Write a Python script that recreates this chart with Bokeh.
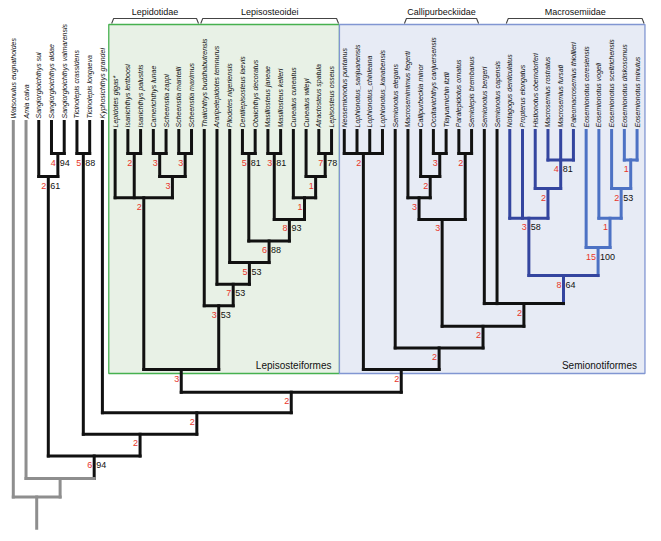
import math
from bokeh.plotting import figure
from bokeh.models import Range1d, ColumnDataSource
from bokeh.embed import file_html
from bokeh.resources import INLINE
from bokeh.core.properties import value

# ---------------- data ----------------
taxa = [
    "Watsonulus eugnathoides", "Amia calva", "Sangiorgioichthys sui",
    "Sangiorgioichthys aldae", "Sangiorgioichthys valmarensis",
    "Ticinolepis crassidens", "Ticinolepis longaeva", "Kyphosichthys grandei",
    "Lepidotes gigas*", "Isanichthys lertboosi", "Isanichthys palustris",
    "Camerichthys lunae", "Scheenstia zappi", "Scheenstia mantelli",
    "Scheenstia maximus", "Thaiichthys buddhabutrensis",
    "Araripelepidotes temnurus", "Pliodetes nigeriensis",
    "Dentilepisosteus laevis", "Obaichthys decoratus", "Masillosteus janeae",
    "Masillosteus kelleri", "Cuneatus cuneatus", "Cuneatus wileyi",
    "Atractosteus spatula", "Lepisosteus osseus", "Neosemionotus puntanus",
    "Lophionotus_sanjuanensis", "Lophionotus_chinleana",
    "Lophionotus_kanabensis", "Semionotus elegans", "Macrosemimimus fegerti",
    "Callipurbeckia minor", "Occitanichthys canjuersensis",
    "Tlayuamichin itztli", "Paralepidotus ornatus", "Semiolepis brembanus",
    "Semionotus bergeri", "Semionotus capensis", "Notagogus denticulatus",
    "Propterus elongatus", "Histionotus oberndorferi", "Macrosemius rostratus",
    "Macrosemius fursati", "Paleomacrosemius thiollieri",
    "Eosemionotus ceresiensis", "Eosemionotus vogeli",
    "Eosemionotus sceltrichensis", "Eosemionotus diskosomus",
    "Eosemionotus minutus",
]

# internal nodes (children listed before parents); level = node depth rank
node_ids = [
    "sang_av", "sang", "tici", "isan", "cam", "sch", "camsch", "lepidotidae",
    "atr", "cwil", "cune", "mas", "masc", "dent", "dento", "plio", "arar",
    "lepisosteoidei", "lepisosteiformes",
    "loph", "occ", "calli", "macmim", "para", "callipurbeckiidae",
    "macro", "hist", "nota", "eo_dm", "eo_sc", "eo_vo", "eo_ce",
    "macrosemiidae", "semcap", "sem_a", "sem_b", "semionotiformes",
    "neo", "kyph", "tic2", "ingroup", "amia_node", "root",
]
node_children = [
    ["Sangiorgioichthys aldae", "Sangiorgioichthys valmarensis"],
    ["Sangiorgioichthys sui", "sang_av"],
    ["Ticinolepis crassidens", "Ticinolepis longaeva"],
    ["Isanichthys lertboosi", "Isanichthys palustris"],
    ["Camerichthys lunae", "Scheenstia zappi"],
    ["Scheenstia mantelli", "Scheenstia maximus"],
    ["cam", "sch"],
    ["Lepidotes gigas*", "isan", "camsch"],
    ["Atractosteus spatula", "Lepisosteus osseus"],
    ["Cuneatus wileyi", "atr"],
    ["Cuneatus cuneatus", "cwil"],
    ["Masillosteus janeae", "Masillosteus kelleri"],
    ["mas", "cune"],
    ["Dentilepisosteus laevis", "Obaichthys decoratus"],
    ["dent", "masc"],
    ["Pliodetes nigeriensis", "dento"],
    ["Araripelepidotes temnurus", "plio"],
    ["Thaiichthys buddhabutrensis", "arar"],
    ["lepidotidae", "lepisosteoidei"],
    ["Neosemionotus puntanus", "Lophionotus_sanjuanensis",
     "Lophionotus_chinleana", "Lophionotus_kanabensis"],
    ["Occitanichthys canjuersensis", "Tlayuamichin itztli"],
    ["Callipurbeckia minor", "occ"],
    ["Macrosemimimus fegerti", "calli"],
    ["Paralepidotus ornatus", "Semiolepis brembanus"],
    ["macmim", "para"],
    ["Macrosemius rostratus", "Macrosemius fursati",
     "Paleomacrosemius thiollieri"],
    ["Histionotus oberndorferi", "macro"],
    ["Notagogus denticulatus", "Propterus elongatus", "hist"],
    ["Eosemionotus diskosomus", "Eosemionotus minutus"],
    ["Eosemionotus sceltrichensis", "eo_dm"],
    ["Eosemionotus vogeli", "eo_sc"],
    ["Eosemionotus ceresiensis", "eo_vo"],
    ["nota", "eo_ce"],
    ["Semionotus bergeri", "Semionotus capensis", "macrosemiidae"],
    ["callipurbeckiidae", "semcap"],
    ["Semionotus elegans", "sem_a"],
    ["loph", "sem_b"],
    ["lepisosteiformes", "semionotiformes"],
    ["Kyphosichthys grandei", "neo"],
    ["tici", "kyph"],
    ["sang", "tic2"],
    ["Amia calva", "ingroup"],
    ["Watsonulus eugnathoides", "amia_node"],
]
node_levels = [
    1, 2.07, 1, 1, 1, 1, 2.07, 3.05,
    1, 2.07, 3.05, 1, 4.05, 1, 5.05, 6.05, 7.05,
    8.05, 11,
    1, 1, 2.07, 3.05, 1, 4.05,
    1.3, 2.62, 4.0, 1.3, 2.62, 4.0, 5.35,
    6.65, 7.95, 9.0, 10.0, 11,
    12.05, 13.0, 14.0, 15.0, 16.05, 16.9,
]
node_bremer = [
    "4", "2", "5", "2", "3", "3", "3", "2",
    "7", "1", "1", "3", "8", "5", "6", "5", "7",
    "3", "3",
    "2", "3", "2", "3", "2", "3",
    "4", "2", "3", "1", "2", "1", "15",
    "8", "2", "2", "2", "2",
    "2", "2", "2", "6", "", "",
]
node_bootstrap = [
    "94", "61", "88", "", "", "", "", "",
    "78", "", "", "81", "93", "81", "88", "53", "53",
    "53", "",
    "", "", "", "", "", "",
    "81", "", "58", "", "53", "", "100",
    "64", "", "", "", "",
    "", "", "", "94", "", "",
]
root_stem_level = 18.35

group_names = ["Lepidotidae", "Lepisosteoidei", "Callipurbeckiidae", "Macrosemiidae"]
group_first = ["Lepidotes gigas*", "Thaiichthys buddhabutrensis",
               "Macrosemimimus fegerti", "Notagogus denticulatus"]
group_last = ["Scheenstia maximus", "Lepisosteus osseus",
              "Semiolepis brembanus", "Eosemionotus minutus"]

box_names = ["Lepisosteiformes", "Semionotiformes"]
box_first = ["Lepidotes gigas*", "Neosemionotus puntanus"]
box_last = ["Lepisosteus osseus", "Eosemionotus minutus"]

# ---------------- styles / layout ----------------
W, H = 652, 532
X0, DX = 12.8, 12.73      # px of first tip, px per tip
Y0, DY = 131.4, 21.6      # px of level 0, px per level

def lvl(px):
    return (px - Y0) / DY

def dxi(px):
    return px / DX

BLACK = "#111111"
GRAY = "#8e8e8e"
DBLUE = "#34459f"
LBLUE = "#4d72c4"
RED = "#e8362b"
FONT = value("Liberation Sans")

gray_set = {"Watsonulus eugnathoides", "Amia calva", "amia_node", "root"}
dblue_set = {"macrosemiidae", "nota", "hist", "macro", "Notagogus denticulatus",
             "Propterus elongatus", "Histionotus oberndorferi",
             "Macrosemius rostratus", "Macrosemius fursati",
             "Paleomacrosemius thiollieri"}
lblue_set = {"eo_ce", "eo_vo", "eo_sc", "eo_dm", "Eosemionotus ceresiensis",
             "Eosemionotus vogeli", "Eosemionotus sceltrichensis",
             "Eosemionotus diskosomus", "Eosemionotus minutus"}

def colour(n):
    if n in gray_set:
        return GRAY
    if n in dblue_set:
        return DBLUE
    if n in lblue_set:
        return LBLUE
    return BLACK

n_out = 8
idx = {t: i for i, t in enumerate(taxa)}
pos = {}
for t in taxa:
    top_px = 121 if idx[t] < n_out else 130
    pos[t] = (idx[t], lvl(top_px))
for nid, ch, lv in zip(node_ids, node_children, node_levels):
    xs = [pos[c][0] for c in ch]
    pos[nid] = ((min(xs) + max(xs)) / 2.0, lv)

p = figure(width=W, height=H, output_backend="svg", toolbar_location=None,
           x_range=Range1d((0 - X0) / DX, (W - X0) / DX),
           y_range=Range1d(lvl(H), lvl(0)),
           x_axis_type=None, y_axis_type=None, min_border=0,
           outline_line_color=None, background_fill_color="white",
           border_fill_color="white")
p.grid.visible = False

# clade boxes
b_left, b_right, b_fill, b_line = [], [], ["#e8f1e6", "#e7ebf5"], ["#46b14f", "#8196d2"]
prev_right = None
for f, l in zip(box_first, box_last):
    left = prev_right if prev_right is not None else idx[f] - 0.5
    right = idx[l] + 0.62
    b_left.append(left)
    b_right.append(right)
    prev_right = right
p.quad(left=b_left, right=b_right, top=lvl(24), bottom=lvl(373),
       fill_color=b_fill, line_color=b_line, line_width=1.3)
p.text(x=[r - dxi(8) for r in b_right], y=lvl(365), text=box_names,
       text_align="right", text_baseline="middle", text_font=FONT,
       text_font_size="10px", text_color="#111111")

# tree edges
vx, vy, vc = [], [], []
for nid, ch, lv in zip(node_ids, node_children, node_levels):
    for c in ch:
        cx, cl = pos[c]
        vx.append([cx, cx]); vy.append([cl, lv]); vc.append(colour(c))
rx, rl = pos["root"]
vx.append([rx, rx]); vy.append([rl, root_stem_level]); vc.append(colour("root"))
hx, hy, hc = [], [], []
for nid, ch, lv in zip(node_ids, node_children, node_levels):
    xs = [pos[c][0] for c in ch]
    hx.append([min(xs), max(xs)]); hy.append([lv, lv]); hc.append(colour(nid))

p.multi_line(xs=vx, ys=vy, line_color=vc, line_width=3, line_cap="square")
p.multi_line(xs=hx, ys=hy, line_color=hc, line_width=3, line_cap="square")

# tip labels
lab_y = [lvl(118) if i < n_out else lvl(127) for i in range(len(taxa))]
p.text(x=list(range(len(taxa))), y=lab_y, text=taxa, angle=math.pi / 2,
       text_align="left", text_baseline="middle", text_font=FONT,
       text_font_style="italic", text_font_size="7px", text_color="#111111")

# support values
bx, by, bt, sx, sy, st = [], [], [], [], [], []
for nid, lv, br, bs in zip(node_ids, node_levels, node_bremer, node_bootstrap):
    x = pos[nid][0]
    if br:
        bx.append(x - dxi(2)); by.append(lv + 0.42); bt.append(br)
    if bs:
        sx.append(x + dxi(2)); sy.append(lv + 0.42); st.append(bs)
p.text(x=bx, y=by, text=bt, text_align="right", text_baseline="middle",
       text_font=FONT, text_font_size="9px", text_color=RED)
p.text(x=sx, y=sy, text=st, text_align="left", text_baseline="middle",
       text_font=FONT, text_font_size="9px", text_color="#111111")

# group brackets
gx, gy, tx = [], [], []
for f, l in zip(group_first, group_last):
    a = idx[f] - dxi(3.5)
    b = idx[l] + dxi(7)
    gx.append([a, a + dxi(2), b - dxi(2), b])
    gy.append([lvl(23), lvl(18), lvl(18), lvl(23)])
    tx.append((a + b) / 2)
p.multi_line(xs=gx, ys=gy, line_color="#444444", line_width=1.1)
p.text(x=tx, y=lvl(11), text=group_names, text_align="center",
       text_baseline="middle", text_font=FONT, text_font_size="9px",
       text_color="#111111")

open("out.html", "w").write(file_html(p, INLINE))
